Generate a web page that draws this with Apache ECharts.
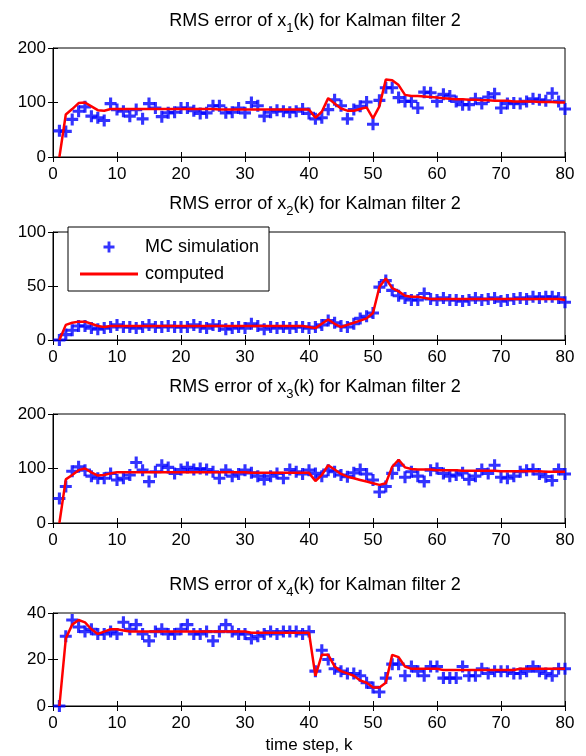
<!DOCTYPE html>
<html>
<head>
<meta charset="utf-8">
<script src="https://cdn.jsdelivr.net/npm/echarts@6/dist/echarts.min.js"></script>
<style>
    html, body { margin: 0; padding: 0; background: #fff; }
    #main { width: 586px; height: 756px; }
</style>
</head>
<body>
<div id="main"></div>
<script>
    // time steps k = 1..80
    var steps = Array.from({length: 80}, function (_, i) { return i + 1; });

    // x1 : MC simulation / computed
    var mc1 = [48, 47, 69, 84, 92, 75, 72, 67, 98, 87,
        84, 75, 87, 70, 98, 90, 74, 81, 82, 90,
        90, 85, 80, 81, 94, 94, 81, 82, 90, 81,
        100, 94, 75, 82, 86, 84, 82, 84, 88, 80,
        70, 72, 87, 105, 94, 70, 87, 93, 101, 60,
        104, 127, 127, 109, 102, 102, 90, 119, 118, 102,
        115, 112, 102, 96, 96, 107, 98, 110, 116, 90,
        98, 99, 98, 102, 107, 105, 103, 117, 102, 88];
    var comp1 = [0, 78, 88, 99, 100, 93, 86, 85, 88, 88,
        88, 88, 88, 88, 88, 88, 88, 88, 88, 88,
        88, 88, 88, 88, 88, 87, 87, 87, 87, 87,
        87, 87, 87, 87, 87, 87, 87, 87, 87, 87,
        72, 83, 108, 98, 89, 85, 85, 88, 91, 71,
        93, 142, 141, 132, 114, 112, 112, 111, 110, 109,
        108, 107, 106, 106, 105, 105, 104, 104, 103, 103,
        103, 102, 102, 102, 102, 101, 101, 101, 100, 100];

    // x2
    var mc2 = [0, 5, 9, 13, 13, 11, 10, 11, 12, 14,
        12, 12, 11, 12, 14, 12, 12, 13, 12, 12,
        12, 14, 12, 11, 14, 13, 10, 11, 12, 11,
        15, 13, 10, 12, 11, 12, 11, 12, 12, 11,
        12, 14, 18, 16, 13, 12, 15, 20, 22, 25,
        49, 55, 46, 41, 39, 37, 37, 43, 38, 37,
        39, 37, 37, 36, 37, 39, 37, 38, 39, 36,
        37, 38, 39, 38, 40, 39, 40, 40, 39, 35];
    var comp2 = [0, 14, 16, 17, 17, 15, 13, 12, 13, 13,
        13, 13, 13, 13, 13, 13, 13, 13, 13, 13,
        13, 13, 13, 13, 13, 13, 13, 13, 13, 13,
        13, 13, 13, 13, 13, 13, 13, 13, 13, 12,
        11, 15, 19, 15, 12, 14, 16, 18, 20, 25,
        49, 57, 48, 45, 41, 40, 40, 39, 38, 38,
        38, 38, 38, 38, 38, 38, 38, 38, 38, 38,
        38, 38, 38, 38, 38, 38, 38, 38, 38, 37];

    // x3
    var mc3 = [45, 67, 95, 103, 97, 86, 82, 82, 91, 79,
        82, 88, 111, 97, 76, 94, 106, 102, 91, 98,
        102, 98, 100, 98, 94, 82, 97, 86, 90, 97,
        92, 86, 80, 86, 91, 82, 98, 94, 90, 97,
        91, 86, 97, 94, 88, 85, 92, 98, 90, 79,
        57, 67, 91, 106, 84, 94, 86, 76, 97, 100,
        91, 86, 88, 92, 80, 86, 98, 91, 106, 84,
        82, 86, 94, 97, 98, 90, 85, 78, 98, 90];
    var comp3 = [0, 80, 88, 97, 100, 93, 87, 88, 91, 93,
        93, 93, 93, 93, 93, 93, 93, 93, 93, 93,
        93, 93, 93, 93, 93, 93, 93, 93, 93, 93,
        92, 92, 92, 92, 92, 92, 92, 92, 92, 92,
        77, 88, 106, 98, 90, 85, 82, 79, 76, 73,
        70, 73, 103, 116, 102, 99, 98, 98, 98, 97,
        97, 97, 97, 96, 96, 96, 96, 96, 96, 95,
        95, 95, 95, 95, 95, 95, 94, 94, 94, 94];

    // x4
    var mc4 = [0, 30, 37, 34, 32, 33, 31, 31, 32, 31,
        36, 33, 35, 31, 28, 32, 33, 31, 31, 33,
        35, 31, 31, 32, 28, 32, 35, 32, 31, 31,
        29, 30, 31, 32, 31, 32, 32, 32, 31, 32,
        15, 24, 20, 16, 15, 14, 14, 13, 10, 8,
        6, 12, 18, 18, 13, 17, 15, 13, 17, 17,
        12, 12, 12, 17, 13, 13, 16, 14, 15, 15,
        15, 14, 14, 15, 17, 15, 14, 13, 16, 16];
    var comp4 = [0, 29, 35, 37, 36, 33, 31, 32, 33, 33,
        32.5, 32, 32, 32, 32, 32, 32, 32, 32, 32,
        32, 32, 32, 32, 32, 32, 32, 32, 32, 32,
        31.5, 31.5, 31.5, 31.5, 31.5, 31.5, 31.5, 31.5, 31.5, 31.5,
        13, 22, 22, 17, 15, 14, 13, 11, 10, 8,
        8, 10, 22, 21, 17, 16, 16, 16, 16, 16,
        15.5, 15.5, 15.5, 15.5, 15.5, 15.5, 15.5, 15.5, 15.5, 15.5,
        15.5, 15.5, 16, 16, 16, 16, 16, 16, 16, 16];

    var yMax = [200, 100, 200, 40];
    var yStep = [100, 50, 100, 20];
    var mcData = [mc1, mc2, mc3, mc4];
    var compData = [comp1, comp2, comp3, comp4];

    var plus = 'path://M3.7,0H6.3V3.7H10V6.3H6.3V10H3.7V6.3H0V3.7H3.7Z';
    var font = 'Liberation Sans';

    // pixel boxes of the four panels
    var boxes = [
        {top: 48, height: 109},
        {top: 232, height: 108},
        {top: 414, height: 109},
        {top: 613, height: 93}
    ];
    var titleTops = [7, 190, 373, 571];

    function pairs(vals) {
        return vals.map(function (v, i) { return [steps[i], v]; });
    }

    var grid = [], xAxis = [], yAxis = [], series = [], title = [];

    boxes.forEach(function (b, i) {
        grid.push({
            left: 53, width: 512, top: b.top, height: b.height,
            show: true, borderColor: '#000', borderWidth: 1, backgroundColor: '#fff'
        });
        var tickStyle = {show: true, inside: true, length: 5, lineStyle: {color: '#000'}};
        xAxis.push({
            gridIndex: i, type: 'value', min: 0, max: 80, interval: 10,
            axisLine: {show: true, onZero: false, lineStyle: {color: '#000'}},
            axisTick: tickStyle,
            splitLine: {show: false},
            axisLabel: {color: '#000', fontSize: 17, fontFamily: font, margin: 9},
            name: i === 3 ? 'time step, k' : '',
            nameLocation: 'middle', nameGap: 31,
            nameTextStyle: {color: '#000', fontSize: 17, fontFamily: font}
        });
        xAxis.push({
            gridIndex: i, type: 'value', min: 0, max: 80, interval: 10, position: 'top',
            axisLine: {show: false}, axisTick: tickStyle,
            axisLabel: {show: false}, splitLine: {show: false}
        });
        yAxis.push({
            gridIndex: i, type: 'value', min: 0, max: yMax[i], interval: yStep[i],
            axisLine: {show: true, onZero: false, lineStyle: {color: '#000'}},
            axisTick: tickStyle,
            splitLine: {show: false},
            axisLabel: {color: '#000', fontSize: 17, fontFamily: font, margin: 7}
        });
        yAxis.push({
            gridIndex: i, type: 'value', min: 0, max: yMax[i], interval: yStep[i], position: 'right',
            axisLine: {show: false}, axisTick: tickStyle,
            axisLabel: {show: false}, splitLine: {show: false}
        });
        series.push({
            name: 'MC simulation', type: 'scatter',
            xAxisIndex: 2 * i, yAxisIndex: 2 * i,
            symbol: plus, symbolSize: 12,
            itemStyle: {color: '#0000ff'},
            data: pairs(mcData[i]), z: 2
        });
        series.push({
            name: 'computed', type: 'line',
            xAxisIndex: 2 * i, yAxisIndex: 2 * i,
            symbol: 'none',
            lineStyle: {color: '#ff0000', width: 2.5},
            itemStyle: {color: '#ff0000'},
            data: pairs(compData[i]), z: 3
        });
        title.push({
            text: '{a|RMS error of x}{s|' + (i + 1) + '}{a|(k) for Kalman filter 2}',
            left: 310, top: titleTops[i], textAlign: 'center',
            textStyle: {
                fontWeight: 'normal',
                rich: {
                    a: {fontSize: 18, fontFamily: font, fontWeight: 'normal', color: '#000', lineHeight: 22, verticalAlign: 'top'},
                    s: {fontSize: 13, fontFamily: font, fontWeight: 'normal', color: '#000', lineHeight: 22, verticalAlign: 'top', padding: [10, 0, 0, 0]}
                }
            }
        });
    });

    var chart = echarts.init(document.getElementById('main'));
    chart.setOption({
        animation: false,
        backgroundColor: '#fff',
        title: title,
        grid: grid,
        xAxis: xAxis,
        yAxis: yAxis,
        legend: {
            left: 68, top: 227, orient: 'vertical',
            data: [
                {name: 'MC simulation', icon: plus},
                {name: 'computed', icon: 'path://M0,0H58V3H0Z'}
            ],
            itemWidth: 58, itemHeight: 11, itemGap: 9,
            padding: [11, 10, 8, 12],
            borderColor: '#000', borderWidth: 1, backgroundColor: '#fff',
            textStyle: {color: '#000', fontSize: 18, fontFamily: font, padding: [0, 0, 0, 2]}
        },
        series: series
    });
</script>
</body>
</html>
